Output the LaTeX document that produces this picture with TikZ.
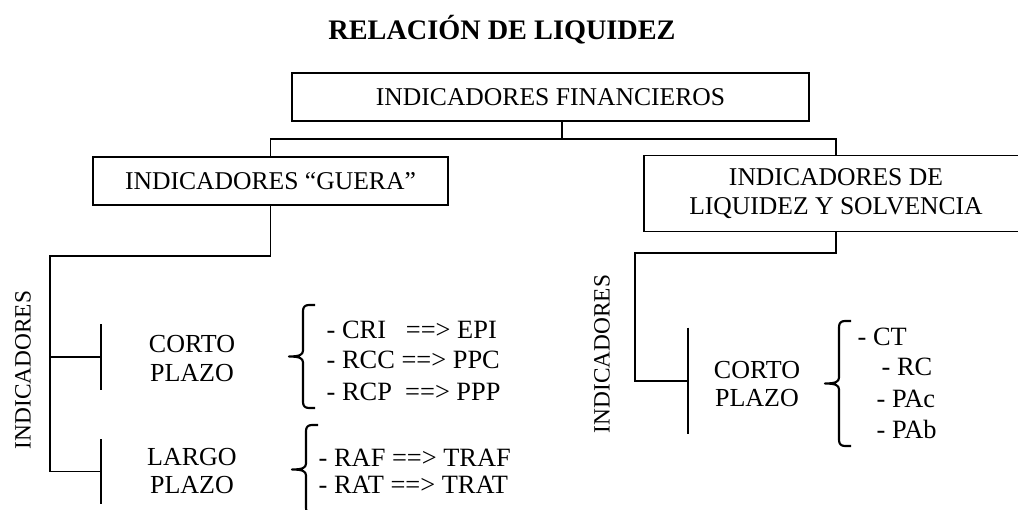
\documentclass[tikz,border=0pt]{standalone}
\usepackage{fontspec}
\setmainfont{Liberation Serif}

\tikzset{every picture/.style={line width=1.1pt}}
\tikzset{
  box/.style={draw, rectangle, inner sep=0pt, align=center, font=\fontsize{19.2pt}{22pt}\selectfont},
  label/.style={inner sep=0pt, align=center, font=\fontsize{19.5pt}{21.5pt}\selectfont},
  item/.style={inner sep=0pt, anchor=west, font=\fontsize{19.8pt}{22pt}\selectfont},
  sidelabel/.style={inner sep=0pt, rotate=90, font=\fontsize{17.5pt}{20pt}\selectfont},
  bar/.style={inner sep=0pt, minimum width=0pt},
  curly/.style={line width=1.6pt, line join=round}
}
% left curly brace: #1 = x of the arm ends, #2 = top, #3 = bottom
\newcommand{\llave}[3]{%
  \pgfmathsetmacro{\llm}{(#2+#3)/2}
  \draw[curly] (#1,#2) -- (#1-6,#2) .. controls (#1-10,#2) and (#1-12,#2+2) .. (#1-12,#2+6)
    -- (#1-12,\llm-6) .. controls (#1-12,\llm-2) and (#1-15,\llm) .. (#1-26,\llm)
    .. controls (#1-15,\llm) and (#1-12,\llm+2) .. (#1-12,\llm+6)
    -- (#1-12,#3-6) .. controls (#1-12,#3-2) and (#1-10,#3) .. (#1-6,#3) -- (#1,#3);
}

\begin{document}
\begin{tikzpicture}[x=0.75pt,y=0.75pt,yscale=-1,xscale=1]
\useasboundingbox (0,0) rectangle (1018,510);

% Title
\node[font=\fontsize{21.2pt}{24pt}\selectfont\bfseries] (title) at (502,30) {RELACIÓN DE LIQUIDEZ};

% Boxes
\node[box, minimum width=387.8pt, minimum height=36pt] (fin) at (550.5,97) {INDICADORES FINANCIEROS};
\node[box, minimum width=266.3pt, minimum height=36pt] (guera) at (270.5,181) {INDICADORES “GUERA”};
\node[box, minimum width=288pt, minimum height=57pt] (liq) at (836,193.5) {INDICADORES DE\\LIQUIDEZ Y SOLVENCIA};

% Junctions
\coordinate (j0) at (562,139);
\coordinate (j1) at (50,256);
\coordinate (j2) at (635,253);

% Connectors between boxes
\draw (fin.south -| j0) -- (j0);
\draw (guera.north) |- (j0) -| (liq.north);

% Left tree
\node[bar, minimum height=48pt] (cbar) at (101,357) {};
\node[bar, minimum height=47.3pt] (lbar) at (101,471.5) {};
\draw (cbar.north) -- (cbar.south);
\draw (lbar.north) -- (lbar.south);
\draw (guera.south) |- (j1) |- (lbar.west);
\draw (j1) |- (cbar.west);

\node[sidelabel] (indl) at (23,370) {INDICADORES};
\node[label] (cortol) at (192,358.5) {CORTO\\PLAZO};
\node[label] (largol) at (192,471) {LARGO\\PLAZO};

\llave{315}{305}{408}
\llave{318}{425}{514}

\node[item] (cri) at (326,330) {- CRI \ \ ==> EPI};
\node[item] (rcc) at (326,360) {- RCC ==> PPC};
\node[item] (rcp) at (326,392) {- RCP \ ==> PPP};
\node[item] (raf) at (318,458) {- RAF ==> TRAF};
\node[item] (rat) at (318,485) {- RAT ==> TRAT};

% Right tree
\node[bar, minimum height=78.8pt] (rbar) at (688,381) {};
\draw (rbar.north) -- (rbar.south);
\draw (liq.south) |- (j2) |- (rbar.west);

\node[sidelabel] (indr) at (602,354) {INDICADORES};
\node[label] (cortor) at (757,384) {CORTO\\PLAZO};

\llave{851}{321}{446}

\node[item] (ct) at (857,337) {- CT};
\node[item] (rc) at (881,367) {- RC};
\node[item] (pac) at (876,399) {- PAc};
\node[item] (pab) at (876,429) {- PAb};

\end{tikzpicture}
\end{document}
